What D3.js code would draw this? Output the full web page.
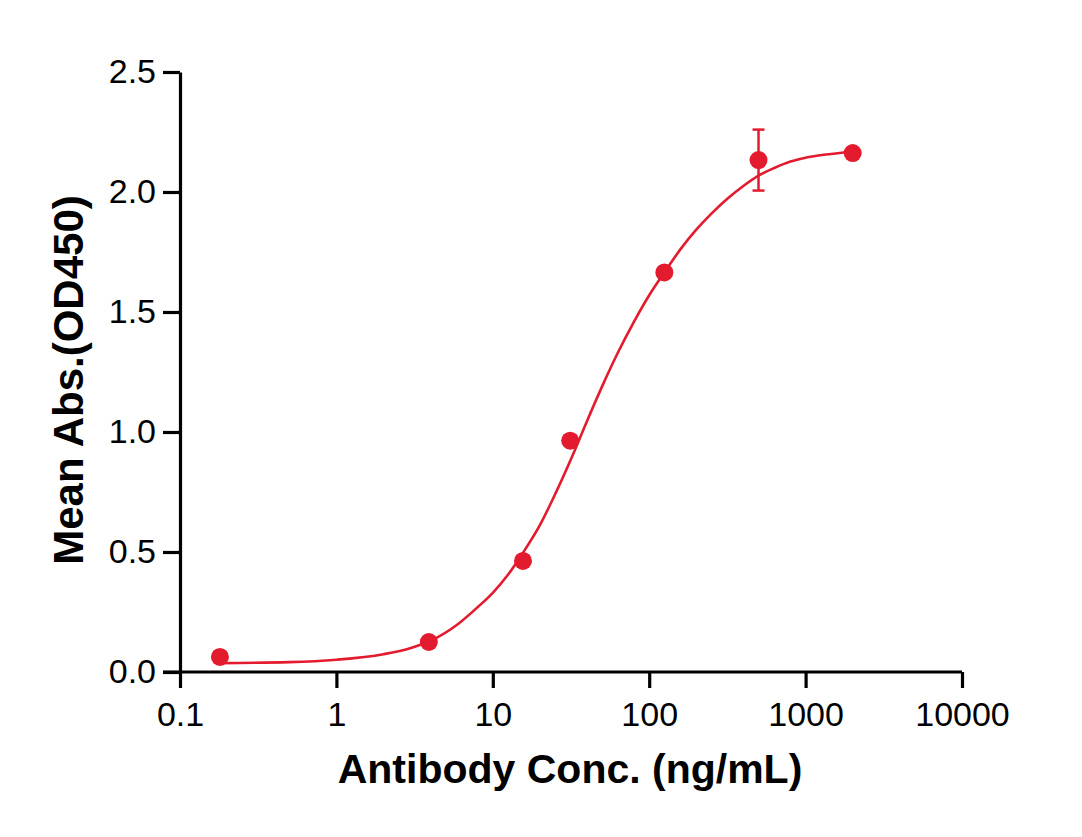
<!DOCTYPE html>
<html>
<head>
<meta charset="utf-8">
<script src="https://cdn.jsdelivr.net/npm/d3@7"></script>
<style>
  html, body { margin: 0; padding: 0; background: #fff; }
  svg { display: block; }
  text { font-family: "Liberation Sans", Arial, sans-serif; fill: #000; }
</style>
</head>
<body>
<svg id="chart" width="1082" height="837"></svg>
<script>
// ---- data ----
const concentrations = [0.18, 3.9, 15.6, 31.25, 125, 500, 2000];
const meanAbs = [0.063, 0.125, 0.463, 0.964, 1.665, 2.133, 2.162];
const errAbs = [0, 0, 0, 0, 0, 0.127, 0];

// fitted curve
const curveConc = [0.18, 0.5, 1, 2, 3, 4, 6, 8, 10, 12.5, 15.6, 20, 25, 32, 40, 50, 63, 80, 100, 125, 160, 200, 250, 320, 400, 500, 630, 800, 1000, 1300, 2000];
const curveAbs  = [0.037, 0.041, 0.051, 0.074, 0.100, 0.13, 0.2, 0.27, 0.33, 0.405, 0.497, 0.612, 0.74, 0.895, 1.045, 1.19, 1.33, 1.46, 1.57, 1.665, 1.765, 1.843, 1.91, 1.975, 2.025, 2.068, 2.1, 2.127, 2.143, 2.155, 2.168];

const xTicks = [0.1, 1, 10, 100, 1000, 10000];
const xTickLabels = ["0.1", "1", "10", "100", "1000", "10000"];
const yTicks = [0, 0.5, 1.0, 1.5, 2.0, 2.5];
const yTickLabels = ["0.0", "0.5", "1.0", "1.5", "2.0", "2.5"];

const xTitle = "Antibody Conc. (ng/mL)";
const yTitle = "Mean Abs.(OD450)";

// ---- drawing ----
const red = "#e31b2e";
const svg = d3.select("#chart");

const x = d3.scaleLog().domain([0.1, 10000]).range([180, 962]);
const y = d3.scaleLinear().domain([0, 2.5]).range([672, 72]);

const xAxis = d3.axisBottom(x)
  .tickValues(xTicks)
  .tickFormat((d, i) => xTickLabels[i])
  .tickSize(16).tickSizeOuter(0).tickPadding(14);
const yAxis = d3.axisLeft(y)
  .tickValues(yTicks)
  .tickFormat((d, i) => yTickLabels[i])
  .tickSize(17).tickSizeOuter(0).tickPadding(7);

const gx = svg.append("g").attr("transform", `translate(0,${y(0)})`).call(xAxis);
const gy = svg.append("g").attr("transform", `translate(${x(0.1)},0)`).call(yAxis);

[gx, gy].forEach(g => {
  g.select(".domain").attr("stroke", "#000").attr("stroke-width", 3.2);
  g.selectAll(".tick line").attr("stroke", "#000").attr("stroke-width", 3.2);
  g.selectAll(".tick text")
    .attr("font-size", 34)
    .attr("font-family", "'Liberation Sans', Arial, sans-serif")
    .attr("fill", "#000");
});
// extend x-axis line to the left under the 0.0 tick
gx.select(".domain").attr("d", `M${x(0.1) - 17},0H${x(10000)}`);

// axis titles
svg.append("text")
  .attr("x", 570).attr("y", 783)
  .attr("text-anchor", "middle")
  .attr("font-size", 41).attr("font-weight", "bold")
  .text(xTitle);

svg.append("text")
  .attr("transform", "translate(83,380) rotate(-90)")
  .attr("text-anchor", "middle")
  .attr("font-size", 42).attr("font-weight", "bold")
  .text(yTitle);

// fitted curve
const curvePts = curveConc.map((c, i) => [c, curveAbs[i]]);
svg.append("path")
  .datum(curvePts)
  .attr("fill", "none")
  .attr("stroke", red)
  .attr("stroke-width", 2.6)
  .attr("d", d3.line().x(d => x(d[0])).y(d => y(d[1])).curve(d3.curveMonotoneX));

// error bars
const pts = concentrations.map((c, i) => ({ c, v: meanAbs[i], e: errAbs[i] }));
const eb = svg.append("g").attr("stroke", red).attr("stroke-width", 2.5);
pts.filter(d => d.e > 0).forEach(d => {
  const cx = x(d.c);
  eb.append("line").attr("x1", cx).attr("x2", cx).attr("y1", y(d.v - d.e)).attr("y2", y(d.v + d.e));
  eb.append("line").attr("x1", cx - 6).attr("x2", cx + 6).attr("y1", y(d.v + d.e)).attr("y2", y(d.v + d.e));
  eb.append("line").attr("x1", cx - 6).attr("x2", cx + 6).attr("y1", y(d.v - d.e)).attr("y2", y(d.v - d.e));
});

// points
svg.append("g").selectAll("circle")
  .data(pts)
  .join("circle")
  .attr("cx", d => x(d.c))
  .attr("cy", d => y(d.v))
  .attr("r", 9)
  .attr("fill", red);
</script>
</body>
</html>
